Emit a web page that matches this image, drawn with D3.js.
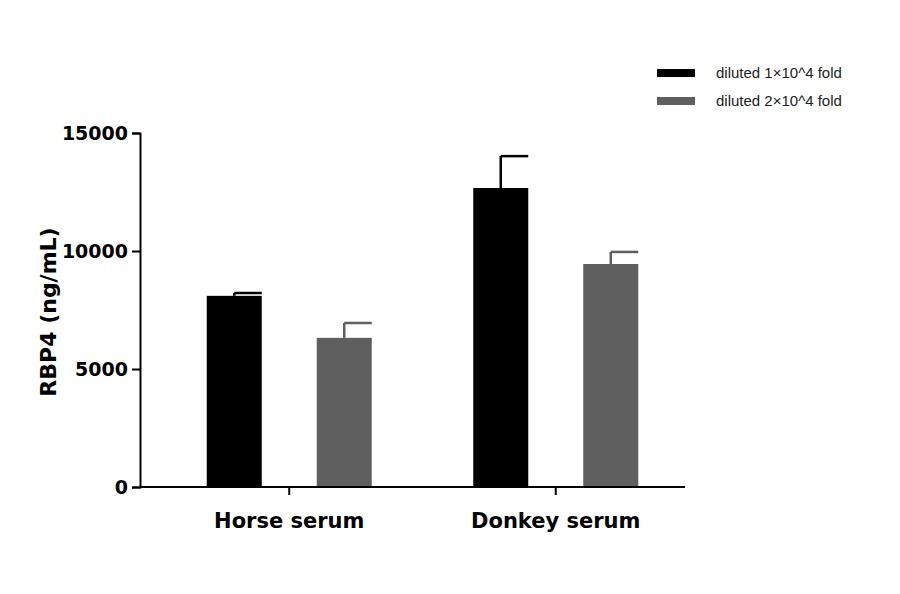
<!DOCTYPE html>
<html><head><meta charset="utf-8">
<script src="https://cdn.jsdelivr.net/npm/d3@7"></script>
<style>body{margin:0;background:#fff}</style></head>
<body><svg id="c" width="900" height="594"></svg>
<script>
const categories = ["Horse serum", "Donkey serum"];
const seriesNames = ["diluted 1×10^4 fold", "diluted 2×10^4 fold"];
const means1 = [8100, 12670];
const errs1 = [120, 1350];
const means2 = [6320, 9450];
const errs2 = [630, 510];
const yTicks = [0, 5000, 10000, 15000];
const colors = ["#000000", "#5f5f5f"];

const svg = d3.select("#c");
const x0 = 140, x1 = 685, yb = 487, yt = 133;
const y = d3.scaleLinear().domain([0, 15000]).range([yb, yt]);
const xc = d3.scaleBand().domain(categories).range([x0, x1 + 20]).paddingInner(0).paddingOuter(0.06);
const xs = d3.scaleBand().domain([0, 1]).range([0, 165]).paddingInner(0.5);
const series = [{m: means1, e: errs1}, {m: means2, e: errs2}];

const g = svg.append("g");
series.forEach((s, si) => {
  categories.forEach((c, ci) => {
    const bx = xc(c) + (xc.bandwidth() - 165) / 2 + xs(si);
    const w = xs.bandwidth();
    const top = y(s.m[ci] + s.e[ci]);
    g.append("line").attr("x1", bx + w / 2).attr("x2", bx + w / 2)
      .attr("y1", y(s.m[ci])).attr("y2", top).attr("stroke", colors[si]).attr("stroke-width", 2.5);
    g.append("line").attr("x1", bx + w / 2).attr("x2", bx + w)
      .attr("y1", top).attr("y2", top).attr("stroke", colors[si]).attr("stroke-width", 2.5);
    g.append("rect").attr("x", bx).attr("y", y(s.m[ci])).attr("width", w)
      .attr("height", yb - y(s.m[ci])).attr("fill", colors[si]);
  });
});

const ya = svg.append("g").attr("transform", `translate(${x0},0)`)
  .call(d3.axisLeft(y).tickValues(yTicks).tickSize(8).tickPadding(4).tickFormat(d3.format("d")));
ya.select(".domain").attr("stroke-width", 2);
ya.selectAll(".tick line").attr("stroke-width", 2);
ya.selectAll("text").attr("font-family", "DejaVu Sans").attr("font-weight", "bold").attr("font-size", 19).attr("fill", "#000");

const xa = svg.append("g").attr("transform", `translate(0,${yb})`);
xa.append("line").attr("x1", x0).attr("x2", x1).attr("stroke", "#000").attr("stroke-width", 2);
categories.forEach(c => {
  const cx = xc(c) + xc.bandwidth() / 2;
  xa.append("line").attr("x1", cx).attr("x2", cx).attr("y1", 0).attr("y2", 8).attr("stroke", "#000").attr("stroke-width", 2);
  xa.append("text").attr("x", cx).attr("y", 41).attr("text-anchor", "middle")
    .attr("font-family", "DejaVu Sans").attr("font-weight", "bold").attr("font-size", 21).text(c);
});

svg.append("text").attr("transform", `translate(56,${(yb + yt) / 2 + 2}) rotate(-90)`)
  .attr("text-anchor", "middle").attr("font-family", "DejaVu Sans").attr("font-weight", "bold")
  .attr("font-size", 22).text("RBP4 (ng/mL)");

seriesNames.forEach((n, i) => {
  const ly = 73 + i * 28;
  svg.append("rect").attr("x", 657).attr("y", ly - 4).attr("width", 38).attr("height", 8).attr("fill", colors[i]);
  svg.append("text").attr("x", 716).attr("y", ly + 5).attr("font-family", "Liberation Sans")
    .attr("font-size", 15).attr("fill", "#222").text(n);
});
</script></body></html>
